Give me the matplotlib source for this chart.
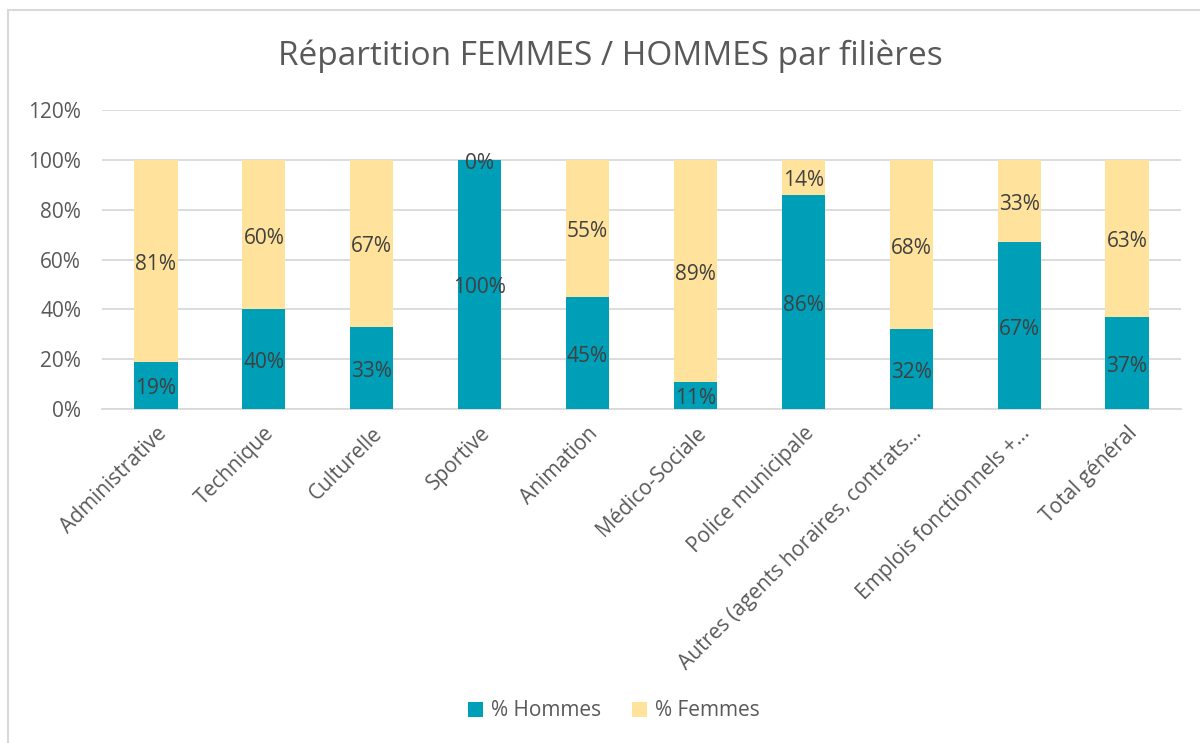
import matplotlib
matplotlib.use("Agg")
import matplotlib.pyplot as plt
from matplotlib.lines import Line2D
import numpy as np

categories = ["Administrative", "Technique", "Culturelle", "Sportive", "Animation",
              "Médico-Sociale", "Police municipale", "Autres (agents horaires, contrats…",
              "Emplois fonctionnels +…", "Total général"]
hommes = [19, 40, 33, 100, 45, 11, 86, 32, 67, 37]
femmes = [81, 60, 67, 0, 55, 89, 14, 68, 33, 63]
yticks = [0, 20, 40, 60, 80, 100, 120]

plt.rcParams['font.family'] = ['Open Sans', 'DejaVu Sans']

c_h = "#009FB8"
c_f = "#FFE29B"
tick_col = "#595959"
lab_col = "#404040"

fig = plt.figure(figsize=(12, 7.43), dpi=100)
# chart frame (left and top edges visible)
fig.add_artist(Line2D([8/1200, 8/1200], [0, 1-10/743], transform=fig.transFigure,
                      color="#D9D9D9", linewidth=1.5))
fig.add_artist(Line2D([8/1200, 1], [1-10/743, 1-10/743], transform=fig.transFigure,
                      color="#D9D9D9", linewidth=1.5))
ax = fig.add_axes([102/1200, 1-409/743, (1181-102)/1200, (409-110)/743])

x = np.arange(len(categories))
w = 0.4
h = np.array(hommes) / 100
f = np.array(femmes) / 100
b1 = ax.bar(x, h, w, color=c_h, label="% Hommes", zorder=3)
b2 = ax.bar(x, f, w, bottom=h, color=c_f, label="% Femmes", zorder=3)
for i in range(len(x)):
    ax.annotate(f"{hommes[i]}%", (x[i], h[i]/2), xytext=(0, -2.5), textcoords="offset points",
                ha="center", va="center", fontsize=15, color=lab_col, zorder=4)
    ax.annotate(f"{femmes[i]}%", (x[i], h[i] + f[i]/2), xytext=(0, -2.5), textcoords="offset points",
                ha="center", va="center", fontsize=15, color=lab_col, zorder=4)

ax.set_xlim(-0.5, len(x) - 0.5)
ax.set_ylim(0, 1.2)
ax.set_yticks([v/100 for v in yticks])
ax.set_yticklabels([f"{v}%" for v in yticks], fontsize=15, color=tick_col)
ax.set_xticks(x)
ax.set_xticklabels(categories, rotation=45, ha="right", rotation_mode="anchor", fontsize=15, color=tick_col)
ax.tick_params(axis="both", length=0)
ax.tick_params(axis="y", pad=15)
ax.tick_params(axis="x", pad=10)
ax.grid(axis="y", color="#D9D9D9", linewidth=1.3, zorder=0)
for s in ["top", "right", "left"]:
    ax.spines[s].set_visible(False)
ax.spines["bottom"].set_color("#D9D9D9")
ax.spines["bottom"].set_linewidth(1.3)

fig.text(610/1200, 1-56/743, "Répartition FEMMES / HOMMES par filières", ha="center", va="center",
         fontsize=24, color=tick_col)

fig.legend(handles=[b1, b2], loc="center", bbox_to_anchor=(614/1200, 1-711/743), ncol=2,
           frameon=False, fontsize=15, labelcolor=tick_col, handlelength=0.7, handleheight=0.7,
           columnspacing=1.5, handletextpad=0.4)

fig.savefig("out.png", dpi=100)
